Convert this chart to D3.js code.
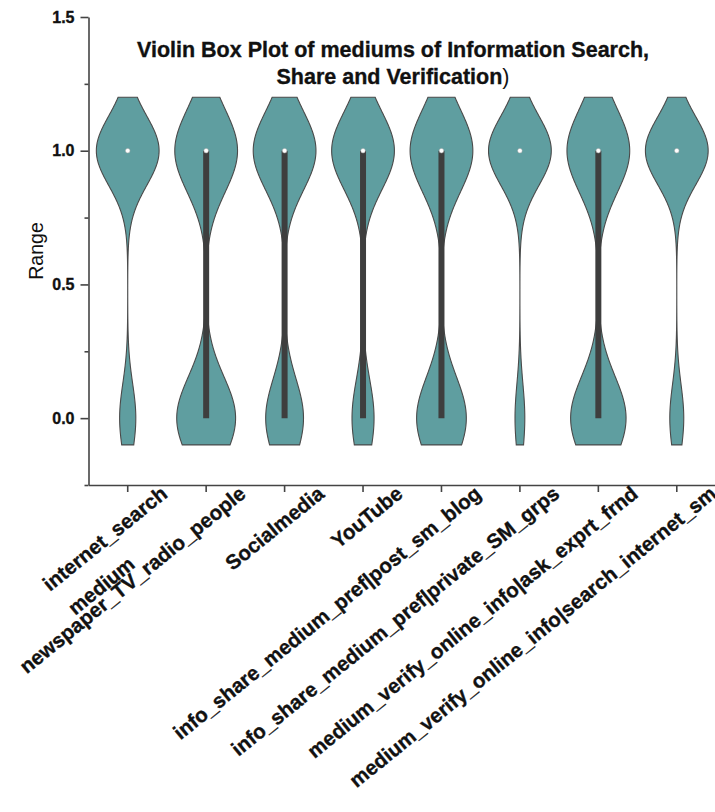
<!DOCTYPE html>
<html>
<head>
<meta charset="utf-8">
<script src="https://cdn.jsdelivr.net/npm/d3@7"></script>
<style>
  body { margin: 0; background: #fff; }
  svg { display: block; }
  text { font-family: "Liberation Sans", Arial, sans-serif; }
  .heavy { stroke: #111; stroke-width: 0.35px; }
</style>
</head>
<body>
<svg id="chart" width="715" height="812"></svg>
<script>
// Survey items (0 = no, 1 = yes)
const categories = [
  "internet_search",
  "newspaper_TV_radio_people",
  "Socialmedia",
  "YouTube",
  "info_share_medium_pref|post_sm_blog",
  "info_share_medium_pref|private_SM_grps",
  "medium_verify_online_info|ask_exprt_frnd",
  "medium_verify_online_info|search_internet_sm"
];
// extra first line shown above some category labels
const labelHeads = ["", "medium", "", "", "", "", "", ""];

// share of respondents answering 1 for each item
const shareOnes = [0.795, 0.516, 0.624, 0.74, 0.558, 0.865, 0.531, 0.818];
// kernel bandwidth used for each violin
const bandwidths = [0.13, 0.155, 0.147, 0.145, 0.154, 0.13, 0.156, 0.127];
// box statistics
const q1 = [1, 0, 0, 0, 0, 1, 0, 1];
const medians = [1, 1, 1, 1, 1, 1, 1, 1];
const q3 = [1, 1, 1, 1, 1, 1, 1, 1];

const yTicks = [0, 0.5, 1.0, 1.5];
const yMinorTicks = [-0.25, 0.25, 0.75, 1.25];
const densityExtent = [-0.1, 1.2];

const titleLines = ["Violin Box Plot of mediums of Information Search,", "Share and Verification"];

const svg = d3.select("#chart");
const plotLeft = 88.5, plotRight = 716, plotTop = 17, plotBottom = 485;

const x = d3.scaleBand().domain(categories).range([plotLeft, plotRight]).paddingInner(0).paddingOuter(0);
const y = d3.scaleLinear().domain([-0.25, 1.5]).range([plotBottom, plotTop]);

const gauss = u => Math.exp(-0.5 * u * u) / Math.sqrt(2 * Math.PI);
const grid = d3.range(densityExtent[0], densityExtent[1] + 1e-9, 0.004);
const halfMax = x.bandwidth() * 0.4;

const plot = svg.append("g");

categories.forEach((cat, i) => {
  const p = shareOnes[i], h = bandwidths[i];
  const dens = grid.map(v => ({
    v,
    d: (p * gauss((v - 1) / h) + (1 - p) * gauss(v / h)) / h
  }));
  const dMax = d3.max(dens, e => e.d);
  const w = d3.scaleLinear().domain([0, dMax]).range([0, halfMax]);
  const cx = x(cat) + x.bandwidth() / 2;

  const area = d3.area()
    .y(e => y(e.v))
    .x0(e => cx - w(e.d))
    .x1(e => cx + w(e.d));

  plot.append("path")
    .datum(dens)
    .attr("d", area)
    .attr("fill", "#5F9EA0")
    .attr("stroke", "#4a4a4a")
    .attr("stroke-width", 1.1);

  if (q1[i] !== q3[i]) {
    plot.append("line")
      .attr("x1", cx).attr("x2", cx)
      .attr("y1", y(q1[i])).attr("y2", y(q3[i]))
      .attr("stroke", "#3e3e3e")
      .attr("stroke-width", 6);
  }
  plot.append("circle")
    .attr("cx", cx).attr("cy", y(medians[i]))
    .attr("r", 2.3)
    .attr("fill", "#fff")
    .attr("stroke", "#aaa")
    .attr("stroke-width", 0.5);
});

// Y axis
const yAxis = svg.append("g").attr("transform", `translate(${plotLeft},0)`)
  .call(d3.axisLeft(y).tickValues(yTicks).tickSize(8).tickSizeOuter(0).tickPadding(6).tickFormat(d3.format(".1f")));
yAxis.selectAll("text").attr("font-size", 16).attr("font-weight", "bold").attr("fill", "#111").attr("class", "heavy");
svg.append("g").attr("transform", `translate(${plotLeft},0)`)
  .call(d3.axisLeft(y).tickValues(yMinorTicks).tickSize(4).tickFormat(""))
  .select(".domain").remove();

// X axis
svg.append("g").attr("transform", `translate(0,${plotBottom})`)
  .call(d3.axisBottom(x).tickSize(7).tickSizeOuter(0).tickFormat(""));

svg.selectAll(".domain, .tick line").attr("stroke", "#444").attr("stroke-width", 1.6);

// rotated category labels
categories.forEach((cat, i) => {
  const cx = x(cat) + x.bandwidth() / 2;
  const g = svg.append("g").attr("transform", `translate(${cx + 41},496) rotate(-39)`);
  const t = g.append("text")
    .attr("class", "heavy")
    .attr("text-anchor", "end")
    .attr("font-size", 20.5)
    .attr("font-weight", "bold")
    .attr("fill", "#111")
    .text(cat);
  if (labelHeads[i]) {
    const len = t.node().getComputedTextLength();
    g.append("text")
      .attr("class", "heavy")
      .attr("text-anchor", "middle")
      .attr("x", -len / 2 - 28)
      .attr("y", -15)
      .attr("font-size", 20.5)
      .attr("font-weight", "bold")
      .attr("fill", "#111")
      .text(labelHeads[i]);
  }
});

// Y axis title
svg.append("text")
  .attr("transform", `translate(43,${(plotTop + plotBottom) / 2}) rotate(-90)`)
  .attr("text-anchor", "middle")
  .attr("font-size", 19.5)
  .attr("fill", "#111")
  .text("Range");

// Chart title
const title = svg.append("text")
  .attr("text-anchor", "middle")
  .attr("font-size", 21.5)
  .attr("font-weight", "bold")
  .attr("fill", "#111");
title.append("tspan").attr("class", "heavy").attr("x", 393).attr("y", 56.5).text(titleLines[0]);
const l2 = title.append("tspan").attr("x", 393).attr("y", 84);
l2.append("tspan").attr("class", "heavy").text(titleLines[1]);
l2.append("tspan").attr("font-weight", "normal").text(")");
</script>
</body>
</html>
